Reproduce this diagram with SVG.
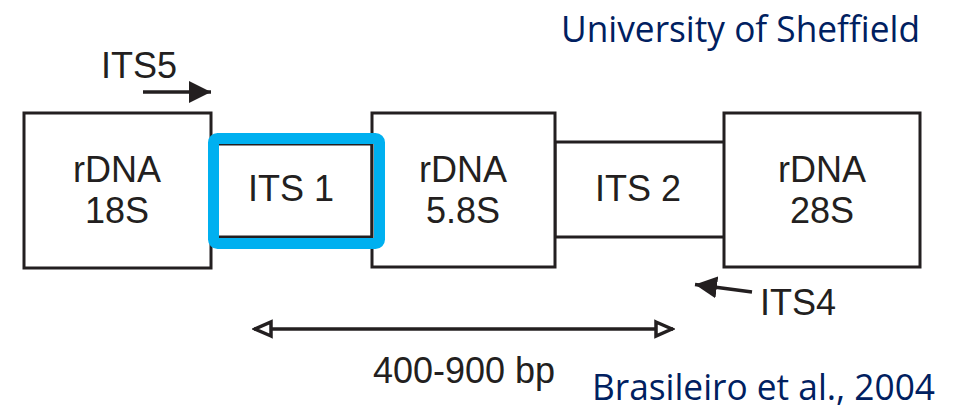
<svg xmlns="http://www.w3.org/2000/svg" width="961" height="411" viewBox="0 0 961 411">
<style>
.box{fill:#fff;stroke:#231f20;stroke-width:3}
.lbl{font-family:"Liberation Sans",Arial,sans-serif;font-size:36px;fill:#231f20;text-anchor:middle}
.cred{font-family:"Open Sans","Noto Sans",sans-serif;font-size:36px;fill:#002060}
.ln{stroke:#231f20;stroke-width:3.5;fill:none}
</style>
<defs>
<marker id="solid" viewBox="0 0 22 22" refX="22" refY="11" markerWidth="22" markerHeight="22" markerUnits="userSpaceOnUse" orient="auto">
<path d="M0,0 L22,11 L0,22 Z" fill="#231f20"/>
</marker>
<marker id="open" viewBox="0 0 22 20" refX="20" refY="10" markerWidth="22" markerHeight="20" markerUnits="userSpaceOnUse" orient="auto-start-reverse">
<path d="M3,3 L19,10 L3,17 Z" fill="#fff" stroke="#231f20" stroke-width="3.5"/>
</marker>
</defs>
<rect width="961" height="411" fill="#fff"/>
<g id="its2">
<rect class="box" x="555" y="142" width="170" height="95"/>
<text class="lbl" x="638" y="201">ITS 2</text>
</g>
<g id="its1">
<rect class="box" x="211" y="144" width="161" height="93"/>
<text class="lbl" x="291" y="201">ITS 1</text>
</g>
<g id="r18s">
<rect class="box" x="24" y="113" width="187" height="155"/>
<text class="lbl" x="117" y="182">rDNA</text>
<text class="lbl" x="117" y="223">18S</text>
</g>
<g id="r58s">
<rect class="box" x="372" y="113" width="183" height="154"/>
<text class="lbl" x="463" y="182">rDNA</text>
<text class="lbl" x="463" y="223">5.8S</text>
</g>
<g id="r28s">
<rect class="box" x="724" y="113" width="196" height="154"/>
<text class="lbl" x="822" y="182">rDNA</text>
<text class="lbl" x="822" y="223">28S</text>
</g>
<g id="highlight">
<rect x="213.5" y="138.5" width="166" height="105" rx="4" fill="none" stroke="#00b0f0" stroke-width="11"/>
</g>
<g id="connectors">
<line class="ln" x1="143" y1="92" x2="211" y2="92" marker-end="url(#solid)"/>
<line class="ln" x1="752" y1="292" x2="695" y2="284.5" marker-end="url(#solid)"/>
<line class="ln" x1="254" y1="329" x2="673" y2="329" marker-start="url(#open)" marker-end="url(#open)"/>
</g>
<g id="labels">
<text class="lbl" x="139" y="78">ITS5</text>
<text class="lbl" x="798" y="315">ITS4</text>
<text class="lbl" x="464" y="383">400-900 bp</text>
<text class="cred" x="561" y="42" textLength="359" lengthAdjust="spacingAndGlyphs">University of Sheffield</text>
<text class="cred" x="592" y="400" textLength="343" lengthAdjust="spacingAndGlyphs">Brasileiro et al., 2004</text>
</g>
</svg>
